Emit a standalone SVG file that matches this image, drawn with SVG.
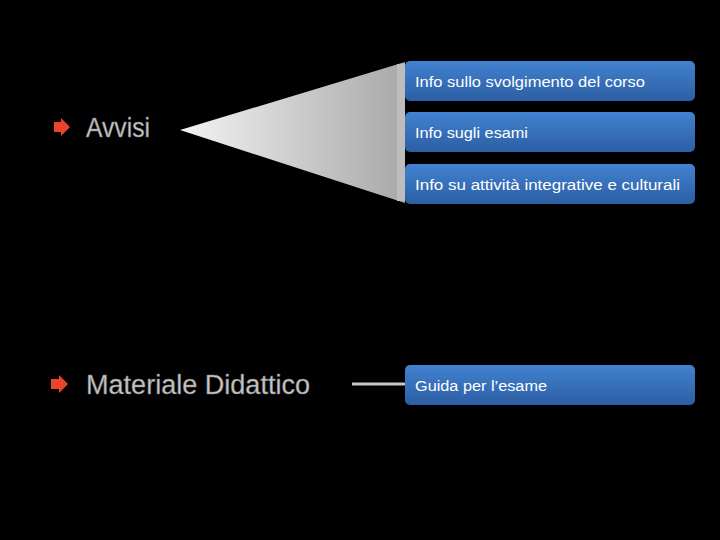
<svg xmlns="http://www.w3.org/2000/svg" width="720" height="540" viewBox="0 0 720 540">
<defs>
<linearGradient id="wedge" x1="0" y1="0" x2="1" y2="0">
<stop offset="0" stop-color="#f4f4f4"/>
<stop offset="1" stop-color="#a8a8a8"/>
</linearGradient>
<linearGradient id="box" x1="0" y1="0" x2="0" y2="1">
<stop offset="0" stop-color="#4282d0"/>
<stop offset="1" stop-color="#2c5ea3"/>
</linearGradient>
<style>
.box{fill:url(#box);}
.lbl{font-family:"Liberation Sans",Arial,sans-serif;font-size:15.5px;fill:#ffffff;}
.side{font-family:"Liberation Sans",Arial,sans-serif;font-size:27px;fill:#c8c8c8;stroke:#777;stroke-width:0.5;}
.bullet{fill:#e8452c;}
</style>
</defs>
<rect width="720" height="540" fill="#000"/>
<g id="connectors">
<polygon points="180,130 405,62 405,203" fill="url(#wedge)"/>
<rect x="397" y="64" width="8" height="137" fill="#bdbdbd"/>
<line x1="352" y1="384" x2="406" y2="384" stroke="#c4c4c4" stroke-width="3"/>
</g>
<g id="avvisi">
<polygon class="bullet" points="54,122 61,122 61,118 70,127 61,136 61,132 54,132"/>
<text class="side" x="86" y="137" textLength="64" lengthAdjust="spacingAndGlyphs">Avvisi</text>
</g>
<g id="materiale">
<polygon class="bullet" points="51,379 59,379 59,375 68,384 59,393 59,389 51,389"/>
<text class="side" x="86" y="394" textLength="224" lengthAdjust="spacingAndGlyphs">Materiale Didattico</text>
</g>
<g id="box1">
<rect class="box" x="405" y="61" width="290" height="40" rx="5"/>
<text class="lbl" x="415" y="87" textLength="230" lengthAdjust="spacingAndGlyphs">Info sullo svolgimento del corso</text>
</g>
<g id="box2">
<rect class="box" x="405" y="112" width="290" height="40" rx="5"/>
<text class="lbl" x="415" y="138" textLength="113" lengthAdjust="spacingAndGlyphs">Info sugli esami</text>
</g>
<g id="box3">
<rect class="box" x="405" y="164" width="290" height="40" rx="5"/>
<text class="lbl" x="415" y="190" textLength="265" lengthAdjust="spacingAndGlyphs">Info su attività integrative e culturali</text>
</g>
<g id="box4">
<rect class="box" x="405" y="365" width="290" height="40" rx="5"/>
<text class="lbl" x="415" y="391" textLength="132" lengthAdjust="spacingAndGlyphs">Guida per l’esame</text>
</g>
</svg>
